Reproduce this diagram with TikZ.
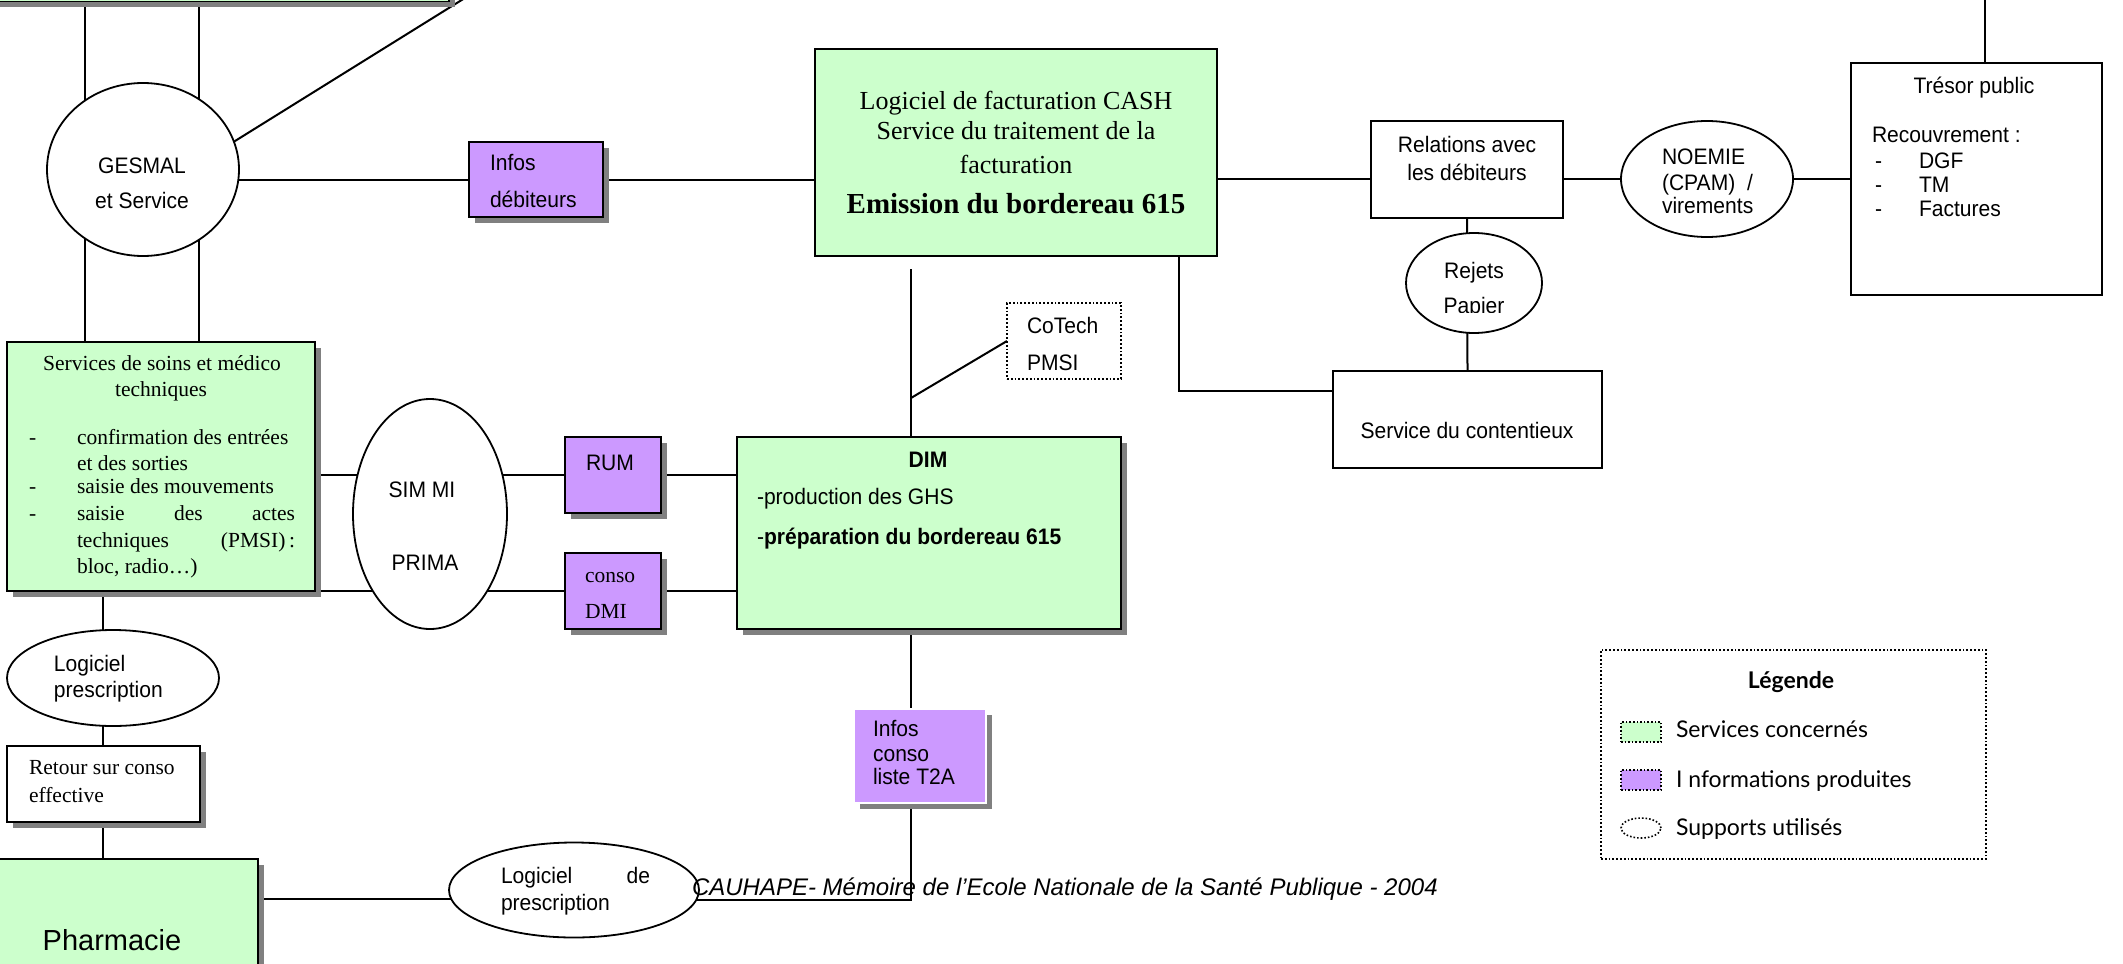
\documentclass[tikz,border=0pt]{standalone}
\usepackage{fontspec}
\setmainfont{Liberation Serif}
\newfontfamily\arialn[FakeStretch=0.94]{Liberation Sans}
\newfontfamily\arial{Liberation Sans}
\newfontfamily\legfont{Lato}
\usetikzlibrary{shapes.geometric,shadows}
\definecolor{boxgreen}{HTML}{CCFFCC}
\definecolor{boxpurple}{HTML}{CC99FF}
\definecolor{shadowgray}{HTML}{808080}
\pgfdeclarelayer{background}
\pgfsetlayers{background,main}
\newcommand\sanstext{\arialn\fontsize{11.2}{13}\selectfont}
\newcommand\seriftext{\rmfamily\fontsize{10.75}{13}\selectfont}
\newcommand\legtext{\legfont\fontsize{11.5}{13}\selectfont}

\begin{document}
\begin{tikzpicture}[x=0.5pt,y=-0.5pt,
  every node/.style={inner sep=0pt, outer sep=0pt},
  connector/.style={draw=black, line width=1pt},
  boxframe/.style={rectangle, draw=black, line width=0.9pt, anchor=north west},
  ovalnode/.style={ellipse, draw=black, line width=0.9pt, fill=white},
  servicebox/.style={boxframe, fill=boxgreen},
  infobox/.style={boxframe, fill=boxpurple},
  shadowed/.style={drop shadow={shadow xshift=3pt, shadow yshift=-3pt, fill=shadowgray, opacity=1}},
  lbl/.style={font=\sanstext, anchor=base},
  lblw/.style={font=\sanstext, anchor=base west},
  lble/.style={font=\sanstext, anchor=base east},
  slblw/.style={font=\seriftext, anchor=base west},
  slbl/.style={font=\seriftext, anchor=base},
  leglbl/.style={font=\legtext, anchor=base west},
  swatch/.style={rectangle, draw=black, densely dotted, line width=0.8pt, anchor=north west, minimum width=20pt, minimum height=10pt}
]
\useasboundingbox (0,0) rectangle (2123,963);
\clip (0,0) rectangle (2123,963);

% ---------- boxes and supports ----------
\node[servicebox, shadowed, minimum width=234.5pt, minimum height=30.75pt] (topbox) at (-20,-60) {};
\node[ovalnode, minimum width=96pt, minimum height=86.5pt] (gesmal) at (143,169.5) {};
\node[infobox, shadowed, minimum width=67pt, minimum height=37.5pt] (infosdeb) at (469,142) {};
\node[servicebox, minimum width=201pt, minimum height=103.5pt] (cash) at (815,49) {};
\node[boxframe, fill=white, minimum width=96pt, minimum height=48.5pt] (relations) at (1371,121) {};
\node[ovalnode, minimum width=86pt, minimum height=58pt] (noemie) at (1707,179) {};
\node[boxframe, fill=white, minimum width=125.5pt, minimum height=116pt] (tresor) at (1851,63) {};
\node[ovalnode, minimum width=68pt, minimum height=50pt] (rejets) at (1474,283) {};
\node[boxframe, fill=white, minimum width=134.5pt, minimum height=48.5pt] (contentieux) at (1333,371) {};
\node[boxframe, fill=white, densely dotted, line width=0.8pt, minimum width=57pt, minimum height=38pt] (cotech) at (1007,303) {};
\node[servicebox, shadowed, minimum width=192pt, minimum height=96pt] (dim) at (737,437) {};
\node[infobox, shadowed, minimum width=48pt, minimum height=38pt] (rum) at (565,437) {};
\node[infobox, shadowed, minimum width=48pt, minimum height=38pt] (dmi) at (565,553) {};
\node[ovalnode, minimum width=77pt, minimum height=115pt] (simmi) at (430,514) {};
\node[servicebox, shadowed, minimum width=154pt, minimum height=124.5pt] (services) at (7,342) {};
\node[ovalnode, minimum width=106pt, minimum height=48pt] (logpresc) at (113,678) {};
\node[boxframe, fill=white, shadowed, minimum width=96.5pt, minimum height=38pt] (retour) at (7,746) {};
\node[servicebox, shadowed, minimum width=139pt, minimum height=75pt] (pharmacie) at (-20,859) {};
\node[ovalnode, minimum width=125pt, minimum height=47.5pt] (logdepresc) at (574,890) {};
\node[infobox, draw=white, shadowed, minimum width=66pt, minimum height=47pt] (infosconso) at (854,709) {};

% ---------- legend ----------
\node[boxframe, densely dotted, line width=0.7pt, minimum width=192.5pt, minimum height=104.5pt] (legend) at (1601,650) {};
\node[swatch, fill=boxgreen] (sw-service) at (1621,722) {};
\node[swatch, fill=boxpurple] (sw-info) at (1621,770) {};
\node[ellipse, draw=black, densely dotted, line width=0.8pt, minimum width=20pt, minimum height=10pt] (sw-support) at (1641,828) {};
\node[font=\legfont\bfseries\fontsize{11.5}{13}\selectfont, anchor=base] (t-leg) at (1791,688) {Légende};
\node[leglbl] (t-leg1) at (1676,737) {Services concernés};
\node[leglbl] (t-leg2) at (1676,787) {I nformations produites};
\node[leglbl] (t-leg3) at (1676,835) {Supports utilisés};

% ---------- connectors ----------
\begin{pgfonlayer}{background}
  \coordinate (xa) at (85,0);
  \coordinate (xb) at (199,0);
  \coordinate (diagend) at (526,-40);
  \coordinate (trtop) at (1985,-20);
  \coordinate (cx) at (1179,391);
  \coordinate (dimstem) at (911,269);
  \coordinate (cojoin) at (911,398);
  \coordinate (xc) at (103,0);
  \coordinate (yp) at (0,899);
  \coordinate (yq) at (911,900);
  \draw[connector] (topbox.south -| xa) -- (services.north -| xa);
  \draw[connector] (topbox.south -| xb) -- (services.north -| xb);
  \draw[connector] (gesmal.17) -- (diagend);
  \draw[connector] (infosdeb.west) -- (infosdeb.west -| gesmal.center);
  \draw[connector] (infosdeb.east) -- (infosdeb.east -| cash.west);
  \draw[connector] (cash.east |- noemie.center) -- (tresor.west |- noemie.center);
  \draw[connector] (tresor.north -| trtop) -- (trtop);
  \draw[connector] (relations.south) -- (contentieux.north);
  \draw[connector] (cash.south -| cx) |- (contentieux.west |- cx);
  \draw[connector] (dimstem) -- (dimstem |- dim.north);
  \draw[connector] (cotech.west) -- (cojoin);
  \draw[connector] (rum.west) -- (rum.west -| services.east);
  \draw[connector] (rum.east) -- (rum.east -| dim.west);
  \draw[connector] (dmi.west) -- (dmi.west -| services.east);
  \draw[connector] (dmi.east) -- (dmi.east -| dim.west);
  \draw[connector] (services.south -| xc) -- (retour.north -| xc);
  \draw[connector] (retour.south -| xc) -- (pharmacie.north -| xc);
  \draw[connector] (pharmacie.east |- yp) -- (logdepresc.center |- yp);
  \draw[connector] (logdepresc.center |- yq) -- (yq) -- (yq |- infosconso.south);
  \draw[connector] (dim.south -| yq) -- (infosconso.north -| yq);
\end{pgfonlayer}

% ---------- texts ----------
\node[lbl] (t-gesmal1) at (142,173) {GESMAL};
\node[lbl] (t-gesmal2) at (142,208) {et Service};
\node[lblw] (t-infosdeb1) at (490,170) {Infos};
\node[lblw] (t-infosdeb2) at (490,207) {débiteurs};

\node[anchor=base, font=\rmfamily\fontsize{13}{15}\selectfont] (t-cash1) at (1016,110) {Logiciel de facturation CASH};
\node[anchor=base, font=\rmfamily\fontsize{13}{15}\selectfont] (t-cash2) at (1016,140) {Service du traitement de la};
\node[anchor=base, font=\rmfamily\fontsize{13}{15}\selectfont] (t-cash3) at (1016,173) {facturation};
\node[anchor=base, font=\rmfamily\bfseries\fontsize{14.5}{17}\selectfont] (t-cash4) at (1016,213) {Emission du bordereau 615};

\node[lbl] (t-rel1) at (1467,152) {Relations avec};
\node[lbl] (t-rel2) at (1467,180) {les débiteurs};

\node[lblw] (t-noe1) at (1662,164) {NOEMIE};
\node[lblw] (t-noe2) at (1662,190) {(CPAM)~~/};
\node[lblw] (t-noe3) at (1662,213) {virements};

\node[lbl] (t-tres) at (1974,94) {Trésor public};
\node[lblw] (t-recouv) at (1872,142) {Recouvrement :};
\node[lblw] (t-d1) at (1875,168) {-};
\node[lblw] (t-dgf) at (1919,168) {DGF};
\node[lblw] (t-d2) at (1875,192) {-};
\node[lblw] (t-tm) at (1919,192) {TM};
\node[lblw] (t-d3) at (1875,216) {-};
\node[lblw] (t-fact) at (1919,216) {Factures};

\node[lbl] (t-rejets) at (1474,278) {Rejets};
\begin{scope}
  \clip (1400,250) rectangle (1550,312);
  \node[lbl] (t-papier) at (1474,313) {Papier};
\end{scope}

\node[lbl] (t-cont) at (1467,438) {Service du contentieux};

\node[lblw] (t-cotech1) at (1027,333) {CoTech};
\node[lblw] (t-cotech2) at (1027,370) {PMSI};

\node[anchor=base, font=\arialn\bfseries\fontsize{11.2}{13}\selectfont] (t-dim) at (928,467) {DIM};
\node[lblw] (t-dim1) at (757,504) {-production des GHS};
\node[lblw] (t-dim2) at (757,544) {-{\bfseries préparation du bordereau 615}};

\node[lblw] (t-rum) at (586,470) {RUM};
\node[slblw] (t-dmi1) at (585,582) {conso};
\node[slblw] (t-dmi2) at (585,618) {DMI};

\node[lbl] (t-simmi) at (422,497) {SIM MI};
\node[lbl] (t-prima) at (425,570) {PRIMA};

\node[slbl] (t-serv1) at (162,370) {Services de soins et médico};
\node[slbl] (t-serv2) at (161,396) {techniques};
\node[slblw] (t-sd1) at (29,444) {-};
\node[slblw] (t-si1) at (77,444) {confirmation des entrées};
\node[slblw] (t-si2) at (77,470) {et des sorties};
\node[slblw] (t-sd2) at (29,493) {-};
\node[slblw] (t-si3) at (77,493) {saisie des mouvements};
\node[slblw] (t-sd3) at (29,520) {-};
\node[slblw] (t-si4) at (77,520) {\makebox[109pt][s]{saisie des actes}};
\node[slblw] (t-si5) at (77,547) {\makebox[109pt][l]{techniques\hfill(PMSI)\,:}};
\node[slblw] (t-si6) at (77,573) {bloc, radio…)};

\node[lblw] (t-lp1) at (54,671) {Logiciel};
\node[lblw] (t-lp2) at (54,697) {prescription};

\node[slblw] (t-ret1) at (29,774) {Retour sur conso};
\node[slblw] (t-ret2) at (29,802) {effective};

\node[anchor=base, font=\arial\fontsize{14.5}{17}\selectfont] (t-pharma) at (112,950) {Pharmacie};

\node[lblw] (t-ldp1) at (501,883) {Logiciel};
\node[lble] (t-ldp2) at (650,883) {de};
\node[lblw] (t-ldp3) at (501,910) {prescription};

\node[lblw] (t-ic1) at (873,736) {Infos};
\node[lblw] (t-ic2) at (873,761) {conso};
\node[lblw] (t-ic3) at (873,784) {liste T2A};

\node[anchor=base west, font=\arial\itshape\fontsize{12}{14}\selectfont] (t-footer) at (692,895) {CAUHAPE- Mémoire de l’Ecole Nationale de la Santé Publique - 2004};
\end{tikzpicture}
\end{document}
